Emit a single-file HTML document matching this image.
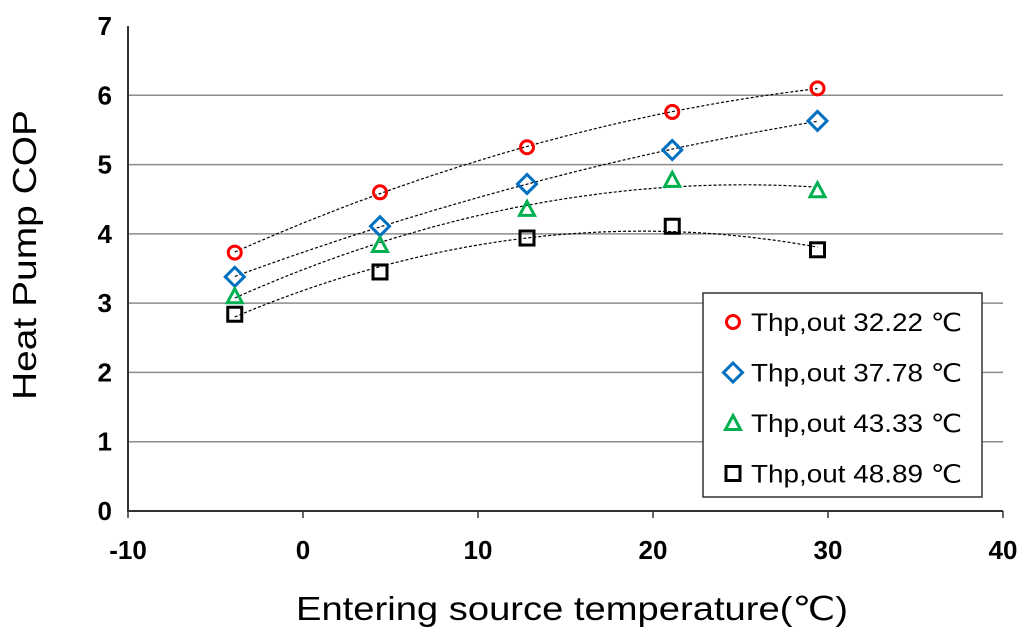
<!DOCTYPE html>
<html><head><meta charset="utf-8"><style>
body{margin:0;background:#fff;}
svg{display:block;font-family:"Liberation Sans",sans-serif;}
</style></head><body>
<svg id="c" width="1024" height="634"></svg>
<script>
const xValues=[-3.9,4.4,12.8,21.1,29.4];
const series32=[3.73,4.6,5.25,5.76,6.1];
const series37=[3.38,4.11,4.72,5.21,5.63];
const series43=[3.1,3.84,4.36,4.78,4.63];
const series48=[2.84,3.45,3.94,4.11,3.77];
const seriesLabels=["Thp,out 32.22 ℃","Thp,out 37.78 ℃","Thp,out 43.33 ℃","Thp,out 48.89 ℃"];
const xTicks=[-10,0,10,20,30,40];
const yTicks=[0,1,2,3,4,5,6,7];
const NS="http://www.w3.org/2000/svg";
const svg=document.getElementById('c');
const X0=128,X1=1003,Y0=511,Y1=26;
const sx=v=>X0+(v+10)/50*(X1-X0);
const sy=v=>Y0-v/7*(Y0-Y1);
function el(t,a,p){const e=document.createElementNS(NS,t);for(const k in a)e.setAttribute(k,a[k]);(p||svg).appendChild(e);return e;}
yTicks.forEach(t=>{
  if(t>0&&t<7){const g=el('line',{x1:X0,x2:X1,y1:sy(t),y2:sy(t),stroke:'#8c8c8c','stroke-width':1.5});
  
  }
  const l=el('text',{x:X0-16,y:sy(t)+9,'text-anchor':'end','font-size':26,'font-weight':'bold',fill:'#000'});
  l.textContent=t;
  
  
});
xTicks.forEach(t=>{
  const l=el('text',{x:sx(t),y:Y0+48,'text-anchor':'middle','font-size':26,'font-weight':'bold',fill:'#000'});
  l.textContent=t;
  
  
  const tk=el('line',{x1:sx(t),x2:sx(t),y1:Y0,y2:Y0+7,stroke:'#333','stroke-width':1.5});
  
  
});
const ax=el('path',{d:`M${X0} ${Y1}V${Y0}H${X1}`,fill:'none',stroke:'#333','stroke-width':2});


function fit(xs,ys){let S=[[0,0,0],[0,0,0],[0,0,0]],b=[0,0,0];
 xs.forEach((x,i)=>{const r=[1,x,x*x];for(let a=0;a<3;a++){b[a]+=r[a]*ys[i];for(let c=0;c<3;c++)S[a][c]+=r[a]*r[c];}});
 for(let i=0;i<3;i++){for(let j=i+1;j<3;j++){const f=S[j][i]/S[i][i];for(let k=0;k<3;k++)S[j][k]-=f*S[i][k];b[j]-=f*b[i];}}
 const c=[0,0,0];for(let i=2;i>=0;i--){let s=b[i];for(let k=i+1;k<3;k++)s-=S[i][k]*c[k];c[i]=s/S[i][i];}return c;}
const all=[series32,series37,series43,series48];
const colors=['#ff0000','#0070c0','#00b050','#000000'];
const shapes=['circle','diamond','triangle','square'];
function marker(shape,cx,cy,col,name){let e;
 if(shape==='circle')e=el('circle',{cx,cy,r:6.5,fill:'none',stroke:col,'stroke-width':3});
 else if(shape==='diamond')e=el('path',{d:`M${cx} ${cy-9.5}L${cx+9.5} ${cy}L${cx} ${cy+9.5}L${cx-9.5} ${cy}Z`,fill:'none',stroke:col,'stroke-width':3});
 else if(shape==='triangle')e=el('path',{d:`M${cx} ${cy-7.5}L${cx+7.5} ${cy+6.5}L${cx-7.5} ${cy+6.5}Z`,fill:'none',stroke:col,'stroke-width':3});
 else e=el('rect',{x:cx-7,y:cy-7,width:14,height:14,fill:'none',stroke:col,'stroke-width':3});
 
 }
all.forEach((ys,si)=>{
 const c=fit(xValues,ys);let d='';
 for(let i=0;i<=60;i++){const x=xValues[0]+(xValues[4]-xValues[0])*i/60;const y=c[0]+c[1]*x+c[2]*x*x;d+=(i?'L':'M')+sx(x).toFixed(1)+' '+sy(y).toFixed(1);}
 const p=el('path',{d,fill:'none',stroke:'#000','stroke-width':1.2,'stroke-dasharray':'3 2'});
 
 
});
all.forEach((ys,si)=>{ys.forEach((v,i)=>marker(shapes[si],sx(xValues[i]),sy(v),colors[si],'point-s'+si+'-'+i));});
const lg=el('rect',{x:703,y:293,width:279,height:204,fill:'#fff',stroke:'#333','stroke-width':1.5});


seriesLabels.forEach((s,i)=>{const y=322+i*50.5;
 marker(shapes[i],733,y,colors[i],'legend-marker-'+i);
 const t=el('text',{x:751,y:y+9,'font-size':25,fill:'#000',textLength:211,lengthAdjust:'spacingAndGlyphs'});t.textContent=s;
 
 });
const xt=el('text',{x:296,y:620,'font-size':33,fill:'#000',textLength:552,lengthAdjust:'spacingAndGlyphs'});xt.textContent='Entering source temperature(℃)';


const yt=el('text',{x:0,y:0,'font-size':33,fill:'#000',transform:'translate(36,400) rotate(-90)',textLength:290,lengthAdjust:'spacingAndGlyphs'});yt.textContent='Heat Pump COP';


</script>
</body></html>
